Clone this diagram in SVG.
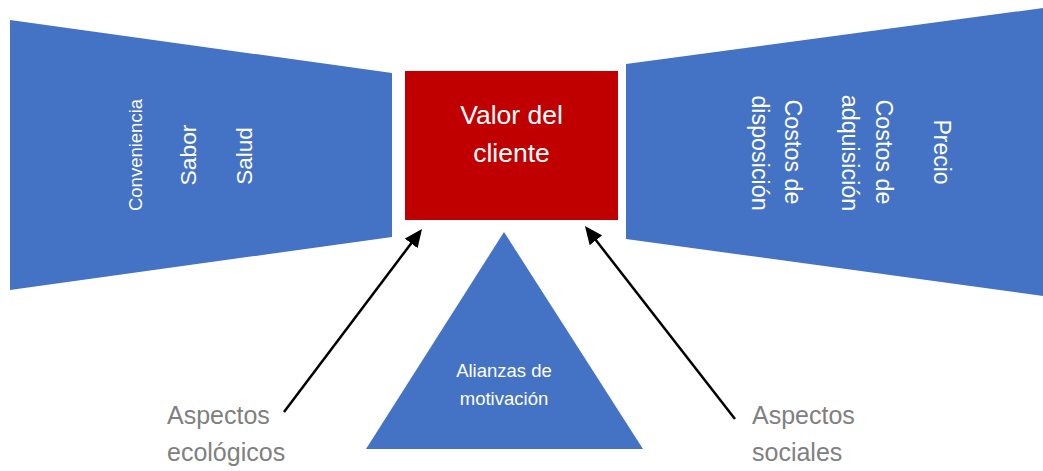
<svg xmlns="http://www.w3.org/2000/svg" width="1043" height="471" viewBox="0 0 1043 471">
  <defs>
    <style>
      .blue { fill: #4472C4; }
      .red { fill: #C00000; }
      .wt { fill: #FFFFFF; font-family: "Liberation Sans", Arial, sans-serif; text-anchor: middle; }
      .gt { fill: #808080; font-family: "Liberation Sans", Arial, sans-serif; font-size: 25px; }
      .conn { stroke: #000000; stroke-width: 2.5; fill: none; marker-end: url(#arrow); }
    </style>
    <marker id="arrow" viewBox="0 0 18 16" refX="13" refY="8" markerWidth="18" markerHeight="16" markerUnits="userSpaceOnUse" orient="auto">
      <path d="M0,0 L18,8 L0,16 z" fill="#000000"/>
    </marker>
  </defs>
  <rect width="1043" height="471" fill="#FFFFFF"/>

  <g id="left-trapezoid">
    <polygon class="blue" points="10,20 392,73 392,237 10,290"/>
    <text class="wt" font-size="18.5" transform="translate(142,155) rotate(-90)">Conveniencia</text>
    <text class="wt" font-size="22.8" transform="translate(196,155) rotate(-90)">Sabor</text>
    <text class="wt" font-size="22.5" transform="translate(252,156) rotate(-90)">Salud</text>
  </g>

  <g id="valor-del-cliente">
    <rect class="red" x="405" y="71" width="213" height="149"/>
    <text class="wt" font-size="26.5" x="511.5" y="124">Valor del</text>
    <text class="wt" font-size="26.5" x="511.5" y="162">cliente</text>
  </g>

  <g id="right-trapezoid">
    <polygon class="blue" points="626,64 1043,8 1043,296 626,239"/>
    <text class="wt" font-size="23" transform="translate(934,152) rotate(90)">Precio</text>
    <text class="wt" font-size="23.3" transform="translate(876,152) rotate(90)">Costos de</text>
    <text class="wt" font-size="23.3" transform="translate(842,153) rotate(90)">adquisición</text>
    <text class="wt" font-size="23.3" transform="translate(785,152) rotate(90)">Costos de</text>
    <text class="wt" font-size="23.3" transform="translate(752,153) rotate(90)">disposición</text>
  </g>

  <g id="alianzas-de-motivacion">
    <polygon class="blue" points="504,232 643,449 366,449"/>
    <text class="wt" font-size="18.5" x="504" y="377">Alianzas de</text>
    <text class="wt" font-size="18.5" x="504" y="405">motivación</text>
  </g>

  <g id="aspectos-ecologicos">
    <text class="gt" x="167" y="424">Aspectos</text>
    <text class="gt" x="167" y="461">ecológicos</text>
  </g>

  <g id="aspectos-sociales">
    <text class="gt" x="752" y="424">Aspectos</text>
    <text class="gt" x="752" y="461">sociales</text>
  </g>

  <g id="connectors">
    <line class="conn" x1="284" y1="412" x2="419" y2="233"/>
    <line class="conn" x1="735" y1="419" x2="588" y2="230"/>
  </g>
</svg>
